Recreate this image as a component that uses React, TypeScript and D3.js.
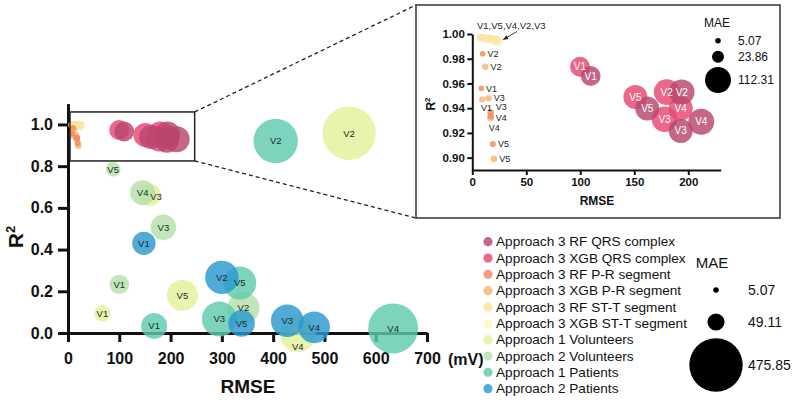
import React, { useEffect, useRef } from 'react'
import * as d3 from 'd3'

// [visit, RMSE (mV), R², MAE]
type Point = [string, number, number, number]

const seriesNames = [
    'Approach 3 RF QRS complex',
    'Approach 3 XGB QRS complex',
    'Approach 3 RF P-R segment',
    'Approach 3 XGB P-R segment',
    'Approach 3 RF ST-T segment',
    'Approach 3 XGB ST-T segment',
    'Approach 1 Volunteers',
    'Approach 2 Volunteers',
    'Approach 1 Patients',
    'Approach 2 Patients',
]
const seriesKeys = ['rfQrs', 'xgbQrs', 'rfPr', 'xgbPr', 'rfSt', 'xgbSt', 'a1Vol', 'a2Vol', 'a1Pat', 'a2Pat']
const seriesColors = [
    '#b8466f', '#e8476e', '#f38a61', '#f8b574', '#fbe3a0',
    '#fcf7c6', '#e3f09a', '#b5e1aa', '#5fcbae', '#2a98d0',
]

const rfQrs: Point[] = [['V1', 109.6, 0.966, 66], ['V2', 194, 0.953, 108], ['V3', 193, 0.9216, 96], ['V4', 212, 0.929, 112.31], ['V5', 162, 0.9397, 96]]
const xgbQrs: Point[] = [['V1', 99.7, 0.9735, 66], ['V2', 180, 0.953, 110], ['V3', 178, 0.931, 108], ['V4', 193, 0.9397, 96], ['V5', 151, 0.949, 96]]
const rfPr: Point[] = [['V1', 8.3, 0.956, 5.2], ['V2', 9.6, 0.984, 5.5], ['V3', 17, 0.9365, 7], ['V4', 17, 0.9335, 7], ['V5', 19, 0.911, 6.3]]
const xgbPr: Point[] = [['V1', 9, 0.947, 6.2], ['V2', 12, 0.9735, 7.3], ['V3', 15, 0.948, 7.3], ['V4', 17, 0.932, 7.5], ['V5', 20, 0.899, 7.5]]
const rfSt: Point[] = [['V1', 7, 0.997, 8], ['V2', 18, 0.996, 12], ['V3', 22, 0.995, 14], ['V4', 14, 0.996, 10], ['V5', 10, 0.997, 9]]
const xgbSt: Point[] = [['V1', 8, 0.998, 5.07], ['V2', 20, 0.995, 11], ['V3', 25, 0.994, 15], ['V4', 15, 0.997, 9], ['V5', 11, 0.997, 7]]
const a1Vol: Point[] = [['V1', 67, 0.094, 45], ['V2', 548, 0.958, 475.85], ['V3', 160, 0.662, 81], ['V4', 448, -0.005, 216], ['V5', 223, 0.181, 160]]
const a2Vol: Point[] = [['V1', 100, 0.233, 63], ['V2', 342, 0.12, 171], ['V3', 186, 0.507, 108], ['V4', 145.5, 0.673, 104], ['V5', 88, 0.785, 36]]
const a1Pat: Point[] = [['V1', 168, 0.034, 113], ['V2', 405, 0.921, 329], ['V3', 295, 0.067, 204], ['V4', 634, 0.022, 417], ['V5', 335, 0.24, 182]]
const a2Pat: Point[] = [['V1', 148, 0.43, 91], ['V2', 300, 0.267, 186], ['V3', 427.5, 0.059, 177], ['V4', 480, 0.027, 167], ['V5', 338.5, 0.046, 118]]

const seriesData = [rfQrs, xgbQrs, rfPr, xgbPr, rfSt, xgbSt, a1Vol, a2Vol, a1Pat, a2Pat]
// later entries sit on top
const drawOrder = [5, 4, 3, 2, 1, 0, 6, 7, 8, 9]
const insetSeries = [5, 4, 3, 2, 1, 0]

const mainXTicks = [0, 100, 200, 300, 400, 500, 600, 700]
const mainYTicks = [0, 0.2, 0.4, 0.6, 0.8, 1.0]
const insetXTicks = [0, 50, 100, 150, 200]
const insetYTicks = [0.9, 0.92, 0.94, 0.96, 0.98, 1.0]
const maeMain = [5.07, 49.11, 475.85]
const maeInset = [5.07, 23.86, 112.31]
const zoomRegion = { rmse: [0, 247], r2: [0.825, 1.06] }
const stLabel = 'V1,V5,V4,V2,V3'

// label nudges [dx, dy] for labels that don't sit in the default spot
const labelNudge: Record<string, [number, number]> = {
    'xgbPr:V1': [-1, 8],
    'xgbPr:V4': [-2, 10],
    'rfPr:V3': [5, -5.5],
    'rfPr:V4': [5, 1.5],
    'a1Vol:V3': [6, 2],
    'a1Vol:V4': [0, 13],
}

const FONT = '"Liberation Sans", Arial, Helvetica, sans-serif'

export default function App() {
    const ref = useRef<SVGSVGElement>(null)

    useEffect(() => {
        const svg = d3.select(ref.current)
        svg.selectAll('*').remove()
        svg.attr('font-family', FONT)

        const rScale = d3.scaleSqrt().domain([0, 475.85]).range([0, 26.7])
        const opacity = 0.82

        // ---- main chart
        const x = d3.scaleLinear().domain([0, 700]).range([68, 427])
        const y = d3.scaleLinear().domain([0, 1.1]).range([333, 103.6])

        const styleAxis = (g: any, width: number, size: number) => {
            g.select('.domain').attr('stroke', '#111').attr('stroke-width', width)
            g.selectAll('.tick line').attr('stroke', '#111').attr('stroke-width', width)
            g.selectAll('.tick text')
                .attr('fill', '#111')
                .attr('font-size', size)
                .attr('font-weight', 'bold')
                .attr('font-family', FONT)
        }

        const gx = svg.append('g').attr('transform', `translate(0,${y(0)})`)
            .call(d3.axisBottom(x).tickValues(mainXTicks).tickSize(9).tickSizeOuter(0).tickPadding(11).tickFormat(d3.format('d')))
        styleAxis(gx, 3, 16)
        const gy = svg.append('g').attr('transform', `translate(${x(0)},0)`)
            .call(d3.axisLeft(y).tickValues(mainYTicks).tickSize(10).tickSizeOuter(0).tickPadding(5).tickFormat(d3.format('.1f')))
        styleAxis(gy, 3, 16)

        svg.append('text').attr('x', x(700) + 21).attr('y', 365)
            .attr('font-size', 16).attr('font-weight', 'bold').attr('fill', '#111').text('(mV)')
        svg.append('text').attr('x', 248).attr('y', 393).attr('text-anchor', 'middle')
            .attr('font-size', 19).attr('font-weight', 'bold').attr('fill', '#111').text('RMSE')
        const ry = svg.append('text').attr('transform', 'translate(23,237) rotate(-90)').attr('text-anchor', 'middle')
            .attr('font-size', 21).attr('font-weight', 'bold').attr('fill', '#111')
        ry.append('tspan').text('R')
        ry.append('tspan').attr('font-size', 13).attr('dy', -8).text('2')

        const nudge = (si: number, d: Point) => labelNudge[`${seriesKeys[si]}:${d[0]}`]

        const mainG = svg.append('g')
        drawOrder.forEach(si => {
            mainG.selectAll(null)
                .data(seriesData[si])
                .enter().append('circle')
                .attr('cx', d => x(d[1]))
                .attr('cy', d => y(d[2]))
                .attr('r', d => rScale(d[3]))
                .attr('fill', seriesColors[si])
                .attr('fill-opacity', opacity)
        })
        drawOrder.filter(si => si >= 6).forEach(si => {
            mainG.selectAll(null)
                .data(seriesData[si])
                .enter().append('text')
                .attr('x', d => x(d[1]) + (nudge(si, d)?.[0] ?? 0))
                .attr('y', d => y(d[2]) + (nudge(si, d)?.[1] ?? 0))
                .attr('dy', '0.35em')
                .attr('text-anchor', 'middle')
                .attr('font-size', 9.5)
                .attr('fill', '#1d2a2a')
                .text(d => d[0])
        })

        // zoom region and connectors
        const zx0 = x(zoomRegion.rmse[0]) + 2, zx1 = x(zoomRegion.rmse[1])
        const zy0 = y(zoomRegion.r2[1]), zy1 = y(zoomRegion.r2[0])
        svg.append('rect').attr('x', zx0).attr('y', zy0).attr('width', zx1 - zx0).attr('height', zy1 - zy0)
            .attr('fill', 'none').attr('stroke', '#222').attr('stroke-width', 1.5)

        const box = { x: 416, y: 5, w: 364, h: 213 }
        svg.append('line').attr('x1', zx1).attr('y1', zy0).attr('x2', box.x).attr('y2', box.y)
            .attr('stroke', '#222').attr('stroke-width', 1.3).attr('stroke-dasharray', '4,3')
        svg.append('line').attr('x1', zx1).attr('y1', zy1).attr('x2', box.x).attr('y2', box.y + box.h)
            .attr('stroke', '#222').attr('stroke-width', 1.3).attr('stroke-dasharray', '4,3')

        // ---- inset
        svg.append('rect').attr('x', box.x).attr('y', box.y).attr('width', box.w).attr('height', box.h)
            .attr('fill', '#fff').attr('stroke', '#333').attr('stroke-width', 1.5)

        const ix = d3.scaleLinear().domain([0, 230]).range([472.3, 720.7])
        const iy = d3.scaleLinear().domain([0.89, 1.0]).range([170, 34])

        const igx = svg.append('g').attr('transform', `translate(0,${iy(0.89)})`)
            .call(d3.axisBottom(ix).tickValues(insetXTicks).tickSize(5).tickSizeOuter(0).tickPadding(3).tickFormat(d3.format('d')))
        styleAxis(igx, 2, 11.5)
        const igy = svg.append('g').attr('transform', `translate(${ix(0)},0)`)
            .call(d3.axisLeft(iy).tickValues(insetYTicks).tickSize(5).tickSizeOuter(0).tickPadding(2.5).tickFormat(d3.format('.2f')))
        styleAxis(igy, 2, 11.5)

        svg.append('text').attr('x', 597).attr('y', 205).attr('text-anchor', 'middle')
            .attr('font-size', 12).attr('font-weight', 'bold').attr('fill', '#111').text('RMSE')
        const iry = svg.append('text').attr('transform', 'translate(435,104) rotate(-90)').attr('text-anchor', 'middle')
            .attr('font-size', 12).attr('font-weight', 'bold').attr('fill', '#111')
        iry.append('tspan').text('R')
        iry.append('tspan').attr('font-size', 8).attr('dy', -5).text('2')

        const insetG = svg.append('g')
        insetSeries.forEach(si => {
            insetG.selectAll(null)
                .data(seriesData[si])
                .enter().append('circle')
                .attr('cx', d => ix(d[1]))
                .attr('cy', d => iy(d[2]))
                .attr('r', d => rScale(d[3]))
                .attr('fill', seriesColors[si])
                .attr('fill-opacity', opacity)
        })
        // QRS labels sit inside the bubbles
        ;[1, 0].forEach(si => {
            insetG.selectAll(null)
                .data(seriesData[si])
                .enter().append('text')
                .attr('x', d => ix(d[1]))
                .attr('y', d => iy(d[2]))
                .attr('dy', '0.35em')
                .attr('text-anchor', 'middle')
                .attr('font-size', 10)
                .attr('fill', '#fff')
                .text(d => d[0])
        })
        // P-R labels to the right of the dots
        ;[2, 3].forEach(si => {
            insetG.selectAll(null)
                .data(seriesData[si])
                .enter().append('text')
                .attr('x', d => {
                    const n = nudge(si, d)
                    return ix(d[1]) + (n ? n[0] : rScale(d[3]) + 2)
                })
                .attr('y', d => iy(d[2]) + (nudge(si, d)?.[1] ?? 0))
                .attr('dy', '0.35em')
                .attr('font-size', 9)
                .attr('fill', '#222')
                .text(d => d[0])
        })

        // ST-T cluster callout
        const defs = svg.append('defs')
        defs.append('marker').attr('id', 'arrowhead').attr('viewBox', '0 0 10 10')
            .attr('refX', 9).attr('refY', 5).attr('markerWidth', 6).attr('markerHeight', 6)
            .attr('orient', 'auto')
            .append('path').attr('d', 'M0,1 L10,5 L0,9 Z').attr('fill', '#222')
        svg.append('text').attr('x', 477).attr('y', 29).attr('font-size', 9.5).attr('fill', '#222').text(stLabel)
        svg.append('line').attr('x1', 517).attr('y1', 31.5).attr('x2', ix(26) + 3).attr('y2', iy(0.9955))
            .attr('stroke', '#222').attr('stroke-width', 0.9).attr('marker-end', 'url(#arrowhead)')

        // inset size legend
        svg.append('text').attr('x', 717).attr('y', 27).attr('text-anchor', 'middle')
            .attr('font-size', 12).attr('fill', '#111').text('MAE')
        const insetLegY = [40.7, 56.7, 80]
        maeInset.forEach((v, i) => {
            svg.append('circle').attr('cx', 718).attr('cy', insetLegY[i]).attr('r', rScale(v)).attr('fill', '#000')
            svg.append('text').attr('x', 738).attr('y', insetLegY[i]).attr('dy', '0.35em')
                .attr('font-size', 12).attr('fill', '#111').text(d3.format('.2f')(v))
        })

        // ---- main legends
        const legG = svg.append('g')
        seriesNames.forEach((name, i) => {
            const ly = 241.7 + i * 16.33
            legG.append('circle').attr('cx', 488).attr('cy', ly).attr('r', 4.6)
                .attr('fill', seriesColors[i]).attr('fill-opacity', opacity)
            legG.append('text').attr('x', 496).attr('y', ly).attr('dy', '0.35em')
                .attr('font-size', 13.6).attr('fill', '#111').text(name)
        })

        svg.append('text').attr('x', 712).attr('y', 268).attr('text-anchor', 'middle')
            .attr('font-size', 15).attr('fill', '#111').text('MAE')
        const mainLegY = [290, 322, 365]
        maeMain.forEach((v, i) => {
            svg.append('circle').attr('cx', 716).attr('cy', mainLegY[i]).attr('r', rScale(v)).attr('fill', '#000')
            svg.append('text').attr('x', 748).attr('y', mainLegY[i]).attr('dy', '0.35em')
                .attr('font-size', 14).attr('fill', '#111').text(d3.format('.2f')(v))
        })
    }, [])

    return (
        <svg ref={ref} width={796} height={402} style={{ position: 'absolute', left: 0, top: 0, background: '#fff' }} />
    )
}
